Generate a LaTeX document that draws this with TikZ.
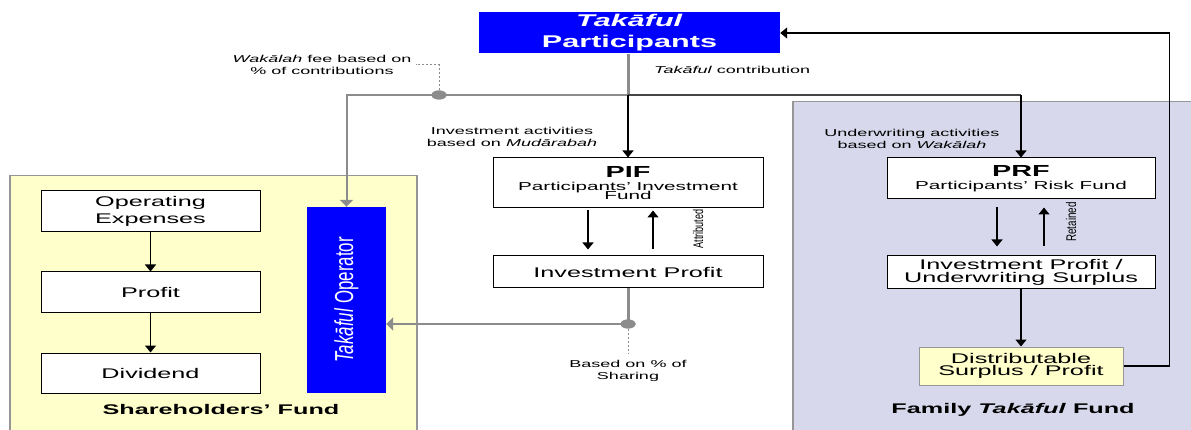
\documentclass[tikz,border=0pt]{standalone}
\usepackage{fontspec}
\setmainfont{Liberation Sans}[FakeStretch=1.8]
\newfontfamily\rotfont{Liberation Sans}
\usetikzlibrary{arrows.meta,shapes.geometric}
\definecolor{pblue}{RGB}{0,0,255}
\definecolor{shyellow}{RGB}{255,255,204}
\definecolor{lav}{RGB}{216,216,236}
\definecolor{linegray}{RGB}{140,140,140}
\definecolor{darkline}{RGB}{70,70,70}
\definecolor{regborder}{RGB}{150,150,150}
\newcommand\tightlines{\lineskiplimit=-20pt\relax}
\tikzset{
  box/.style={draw=black, line width=1pt, fill=white, inner sep=0pt, align=center,
    font=\fontsize{14}{17}\selectfont\tightlines},
  region/.style={draw=regborder, line width=1.5pt, inner sep=0pt},
  blk/.style={draw=black, line width=1.3pt, -{Triangle[length=7pt,width=11pt]}},
  gry/.style={draw=linegray, line width=3pt},
  gryarrow/.style={draw=linegray, line width=2pt, -{Triangle[length=7pt,width=13pt]}},
  grydash/.style={draw=linegray, line width=1pt, dash pattern=on 2pt off 2pt},
  lbl/.style={font=\fontsize{10}{12}\selectfont\tightlines, align=center, inner sep=0pt},
  rotlbl/.style={rotate=90, inner sep=0pt},
  title/.style={font=\bfseries\fontsize{14}{15}\selectfont, inner sep=0pt},
  dot/.style={fill=linegray, draw=none, ellipse, minimum width=15pt, minimum height=9pt, inner sep=0pt},
}
\begin{document}
\begin{tikzpicture}[x=1pt,y=-1pt]
\useasboundingbox (0,0) rectangle (1191,430);
\clip (0,0) rectangle (1191,430);
% regions
\node[region, fill=shyellow, minimum width=407pt, minimum height=262pt, anchor=north west] (shreg) at (9,175) {};
\node[region, fill=lav, minimum width=412pt, minimum height=336pt, anchor=north west] (famreg) at (792,101) {};
\node[title] (shtitle) at (221,409) {Shareholders’ Fund};
\node[title] (famtitle) at (1013,410) {Family \textit{Takāful} Fund};
% participants
\node[fill=pblue, text=white, minimum width=301pt, minimum height=41pt, inner sep=0pt, align=center,
      font=\bfseries\fontsize{17}{21}\selectfont\tightlines] (part) at (629.5,33) {\textit{Takāful}\\Participants};
% shareholders boxes
\node[box, minimum width=219pt, minimum height=41pt] (opex) at (150.5,211.5) {Operating\\Expenses};
\node[box, minimum width=219pt, minimum height=40pt] (profit) at (150.5,292) {Profit};
\node[box, minimum width=219pt, minimum height=40pt] (divid) at (150.5,373) {Dividend};
\node[fill=pblue, minimum width=79pt, minimum height=186pt, inner sep=0pt] (oper) at (346.5,300) {};
\node[rotlbl, text=white] (opertext) at (oper.center) {\scalebox{0.65}[1]{\rotfont\fontsize{26}{26}\selectfont\textit{Takāful} Operator}};
% PIF
\node[box, minimum width=270pt, minimum height=50pt, font=\fontsize{11.5}{10}\selectfont\tightlines] (pif) at (628,183)
  {{\bfseries\fontsize{16}{16}\selectfont PIF}\\[3pt]Participants’ Investment\\[-0.5pt]Fund};
\node[box, minimum width=270pt, minimum height=32pt] (ip) at (628,272) {Investment Profit};
% PRF
\node[box, minimum width=268pt, minimum height=41pt, font=\fontsize{11.5}{10}\selectfont\tightlines] (prf) at (1021,178.5)
  {{\bfseries\fontsize{16}{16}\selectfont PRF}\\[3pt]Participants’ Risk Fund};
\node[box, minimum width=268pt, minimum height=33pt, font=\fontsize{14}{13}\selectfont\tightlines] (ipus) at (1021,272.5) {Investment Profit /\\Underwriting Surplus};
\node[box, fill=shyellow, draw=regborder, minimum width=204pt, minimum height=38pt, font=\fontsize{14}{12.5}\selectfont\tightlines] (dist) at (1021,366) {Distributable\\Surplus / Profit};
% labels
\node[lbl] (wfee) at (322,65) {\textit{Wakālah} fee based on\\\% of contributions};
\node[lbl, anchor=west] (contrib) at (654,70) {\textit{Takāful} contribution};
\node[lbl] (invact) at (512,137) {Investment activities\\based on \textit{Mudārabah}};
\node[lbl] (uwact) at (912,139) {Underwriting activities\\based on \textit{Wakālah}};
\node[rotlbl] (attr) at (698,229) {\scalebox{0.65}[1]{\rotfont\fontsize{14}{14}\selectfont Attributed}};
\node[rotlbl] (ret) at (1071,222) {\scalebox{0.7}[1]{\rotfont\fontsize{14}{14}\selectfont Retained}};
\node[lbl] (sharing) at (628,371) {Based on \% of\\Sharing};
% junctions
\coordinate (j1) at (628,95);
\coordinate (j2) at (1021,95);
\node[dot] (d1) at (439,95) {};
\node[dot] (d2) at (628,324) {};
\coordinate (w1) at (439,65);
\coordinate (w2) at (416,65);
\coordinate (s1) at (628,353);
% connectors
\draw[gry] (j1 |- part.south) -- (j1);
\draw[gryarrow] (j1) -- (oper.north |- j1) -- (oper.north);
\draw[grydash] (d1) -- (w1) -- (w2);
\draw[darkline, line width=1.3pt] (j1) -- (j2);
\draw[blk] (j1) -- (pif.north);
\draw[blk] (j2) -- (prf.north);
\draw[blk] ([xshift=-40pt,yshift=-2pt]pif.south) -- ([xshift=-40pt,yshift=6pt]ip.north);
\draw[blk] ([xshift=25pt,yshift=6pt]ip.north) -- ([xshift=25pt,yshift=-2pt]pif.south);
\draw[blk] ([xshift=-24pt,yshift=-8pt]prf.south) -- ([xshift=-24pt,yshift=9pt]ipus.north);
\draw[blk] ([xshift=23pt,yshift=9pt]ipus.north) -- ([xshift=23pt,yshift=-8pt]prf.south);
\draw[blk] (ipus.south) -- (dist.north);
\draw[blk] (dist.east) -- ++(46,0) |- (part.east);
\draw[gry] (ip.south) -- (d2.center);
\draw[gryarrow] (d2.center) -- (oper.east |- d2);
\draw[grydash] (d2) -- (s1);
\draw[blk] (opex) -- (profit);
\draw[blk] (profit) -- (divid);
\node[dot] at (d1) {};
\node[dot] at (d2) {};
\end{tikzpicture}
\end{document}
